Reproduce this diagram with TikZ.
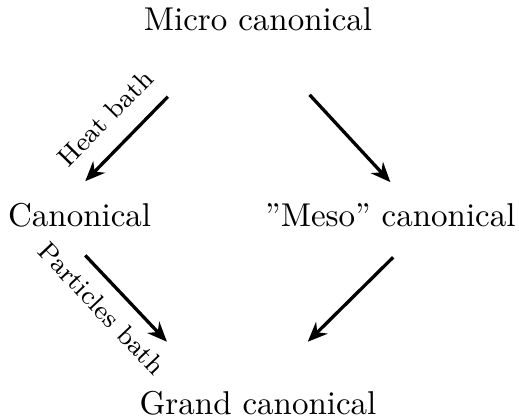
\documentclass[tikz,border=0pt]{standalone}
\usepackage{amsmath}
\usetikzlibrary{
    arrows.meta,
    calc
}
\tikzset {
    state/.style = {inner sep = 1pt},
    flow/.style = {line width = 1pt, -{Stealth[length = 6pt, width = 5pt]}},
    %
    bath above/.style = {
        insert path = {
            node[
                midway,
                above,
                sloped,
                font = \footnotesize,
                inner sep = 5.7pt
            ]{#1}
        }
    },
    bath below/.style = {
        insert path = {
            node[
                pos = 0.42,
                below,
                sloped,
                font = \footnotesize,
                inner sep = 4.1pt
            ]{#1}
        }
    }
}

\begin{document}
\begin{tikzpicture}
            \useasboundingbox (-2.748, -2.162) rectangle (2.780, 2.290);
            \node (micro) [state] at (0, 2.08) {Micro canonical};
            \node (canon) [state] at (-1.90, 0) {Canonical};
            \node (meso) [state] at (1.41, 0) {''Meso'' canonical};
            \node (grand) [state] at (0, -2.00) {Grand canonical};
            % arrow ends
            \coordinate (mc-s) at (-0.96, 1.26);
            \coordinate (mc-e) at (-1.84, 0.36);
            \coordinate (mm-s) at (0.55, 1.28);
            \coordinate (mm-e) at (1.41, 0.35);
            \coordinate (cg-s) at (-1.84, -0.43);
            \coordinate (cg-e) at (-0.97, -1.35);
            \coordinate (mg-s) at (1.44, -0.45);
            \coordinate (mg-e) at (0.53, -1.35);
            \draw [flow] (mc-s) -- (mc-e) [bath above = {Heat bath}];
            \draw [flow] (mm-s) -- (mm-e);
            \draw [flow] (cg-s) -- (cg-e) [bath below = {Particles bath}];
            \draw [flow] (mg-s) -- (mg-e);
        \end{tikzpicture}
\end{document}
